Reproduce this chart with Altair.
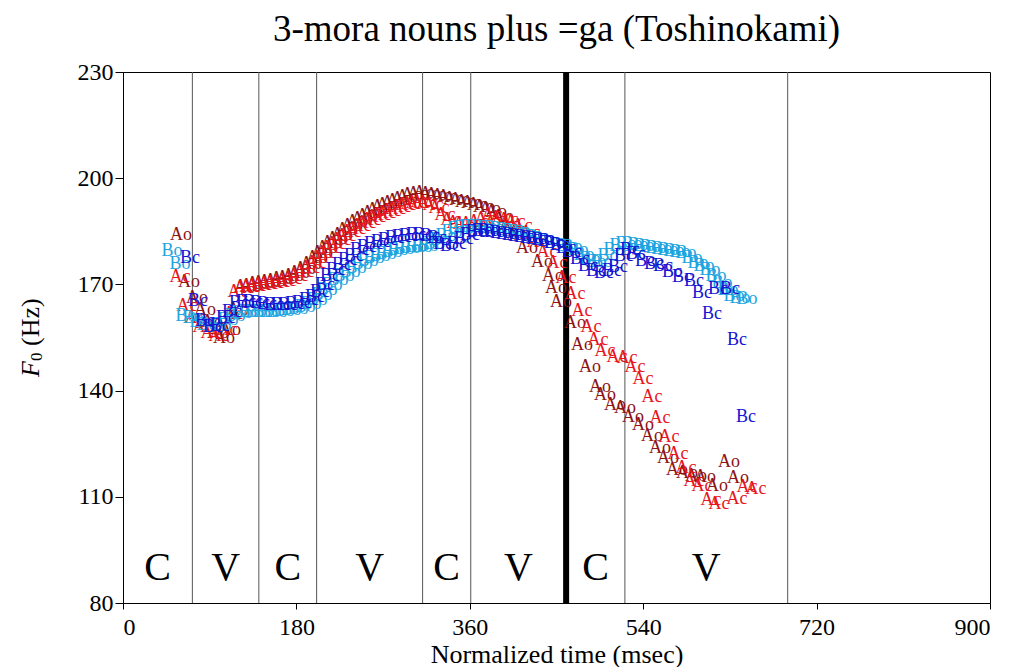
import altair as alt
import pandas as pd

# ---- data (ms, Hz) ----
ao_t = [60.2, 68.5, 76.8, 85.1, 92.4, 98.6, 104.8, 111.1, 119.4, 126.6, 132.9, 139.1, 145.3, 151.6, 157.8,
        164.0, 170.2, 176.5, 182.7, 188.9, 195.2, 201.4, 206.6, 211.8, 217.0, 222.2, 227.3, 232.5, 237.7,
        242.9, 248.1, 253.3, 258.5, 263.7, 268.9, 274.1, 279.2, 284.4, 289.6, 294.8, 300.0, 306.2, 312.5,
        318.7, 324.9, 331.2, 337.4, 343.6, 349.8, 356.1, 362.3, 368.5, 374.8, 381.0, 387.2, 394.5, 401.7,
        409.0, 419.4, 435.0, 446.4, 449.5, 454.7, 469.2, 476.5, 484.8, 495.2, 500.4, 510.7, 521.1, 529.4,
        539.8, 549.2, 557.5, 565.8, 575.1, 585.5, 594.8, 604.2, 616.6, 629.1, 638.4]
ao_f = [184.0, 170.7, 166.2, 162.8, 159.4, 156.3, 154.9, 157.1, 162.8, 169.3, 169.5, 170.1, 170.4, 170.7, 171.0,
        171.5, 171.8, 172.4, 173.2, 174.3, 175.8, 177.5, 178.9, 180.3, 181.7, 182.8, 184.0, 185.4, 186.5,
        187.6, 188.5, 189.3, 190.2, 191.0, 191.9, 192.4, 193.0, 193.6, 194.1, 194.7, 195.3, 195.5, 195.8,
        195.5, 195.3, 195.0, 194.7, 194.1, 193.8, 193.3, 193.0, 192.4, 191.9, 191.3, 190.5, 189.0, 186.8,
        184.0, 180.3, 176.3, 172.4, 169.0, 165.0, 159.1, 152.9, 146.7, 141.0, 138.8, 135.9, 135.1, 132.5,
        130.3, 127.2, 123.8, 121.0, 117.6, 116.7, 115.9, 115.6, 113.0, 119.8, 115.3]

ac_t = [59.2, 66.4, 74.7, 83.0, 91.4, 99.7, 108.0, 114.2, 119.4, 125.6, 131.8, 138.1, 144.3, 150.5, 156.8,
        163.0, 169.2, 175.4, 181.7, 187.9, 194.1, 200.4, 205.5, 210.7, 215.9, 221.1, 226.3, 231.5, 236.7,
        241.9, 247.1, 252.3, 257.4, 262.6, 267.8, 273.0, 278.2, 283.4, 288.6, 293.8, 299.0, 304.2, 309.4,
        315.6, 321.8, 328.0, 334.3, 340.5, 346.7, 353.0, 360.2, 368.5, 375.8, 383.1, 391.4, 399.7, 406.9,
        414.2, 422.5, 429.8, 440.2, 450.5, 459.9, 469.2, 476.5, 485.8, 493.1, 500.4, 512.8, 523.2, 531.5,
        539.8, 549.2, 557.5, 566.8, 576.1, 584.4, 592.7, 601.1, 610.4, 618.7, 637.4, 647.8, 657.1]
ac_f = [172.1, 163.9, 160.5, 158.0, 156.3, 155.4, 157.1, 161.6, 167.9, 169.0, 169.3, 169.5, 169.8, 170.1, 170.4,
        170.7, 171.0, 171.5, 172.4, 173.5, 174.6, 176.0, 177.5, 178.9, 180.3, 181.4, 182.5, 183.7, 184.8,
        185.6, 186.5, 187.3, 188.2, 189.0, 189.6, 190.2, 190.7, 191.3, 191.9, 192.4, 192.7, 193.0, 193.3,
        193.0, 192.4, 191.6, 189.6, 188.2, 187.3, 187.1, 187.1, 187.6, 188.5, 189.6, 188.8, 188.2, 187.6,
        186.5, 184.5, 182.0, 179.2, 176.0, 171.8, 167.3, 162.5, 158.0, 154.3, 151.2, 149.5, 149.2, 146.7,
        143.3, 138.2, 132.3, 126.9, 122.1, 118.1, 114.5, 113.0, 109.1, 108.0, 109.4, 112.8, 112.2]

bo_t = [50.9, 59.2, 65.4, 72.7, 79.9, 87.2, 94.5, 101.7, 109.0, 116.3, 123.5, 130.8, 138.1, 145.3, 152.6,
        159.9, 167.1, 174.4, 181.7, 188.9, 195.2, 201.4, 206.6, 211.8, 217.0, 223.2, 229.4, 235.6, 241.9,
        248.1, 254.3, 260.6, 266.8, 273.0, 279.2, 285.5, 291.7, 297.9, 304.2, 310.4, 316.6, 322.8, 329.1,
        335.3, 341.5, 347.8, 354.0, 360.2, 366.4, 372.7, 378.9, 385.1, 391.4, 397.6, 403.8, 410.0, 416.3,
        422.5, 428.7, 435.0, 441.2, 447.4, 453.6, 459.9, 466.1, 472.3, 478.6, 484.8, 491.0, 497.2, 503.5,
        509.7, 515.9, 522.2, 528.4, 534.6, 540.8, 547.1, 553.3, 559.5, 565.8, 572.0, 578.2, 584.4, 590.7,
        596.9, 603.1, 609.4, 615.6, 621.8, 628.0, 634.3, 640.5, 647.8]
bo_f = [179.4, 175.8, 161.1, 160.5, 159.4, 158.5, 158.0, 158.5, 159.9, 161.1, 161.9, 162.2, 162.2, 162.2, 162.2,
        162.2, 162.5, 162.8, 163.0, 163.6, 164.5, 165.6, 167.0, 168.4, 169.8, 171.2, 172.4, 173.5, 174.6,
        175.8, 176.6, 177.5, 178.0, 178.6, 179.2, 179.7, 180.0, 180.3, 180.6, 180.6, 180.8, 181.4, 182.5,
        183.7, 184.8, 185.6, 185.9, 186.2, 186.2, 186.2, 185.9, 185.9, 185.6, 185.4, 185.1, 184.8, 184.5,
        184.0, 183.4, 182.8, 182.3, 181.7, 181.1, 180.8, 180.6, 179.7, 178.3, 177.2, 176.3, 176.3, 178.0,
        179.7, 180.8, 181.4, 181.4, 181.1, 180.8, 180.6, 180.3, 180.0, 179.7, 179.4, 179.2, 178.9, 177.5,
        176.0, 175.2, 174.1, 172.4, 170.4, 168.4, 166.7, 166.2, 165.9]

bc_t = [69.6, 77.9, 85.1, 93.4, 100.7, 106.9, 113.2, 120.4, 127.7, 135.0, 142.2, 149.5, 156.8, 164.0, 171.3,
        178.6, 185.8, 193.1, 199.3, 204.5, 209.7, 214.9, 221.1, 227.3, 233.6, 239.8, 246.0, 253.3, 260.6,
        267.8, 275.1, 282.4, 289.6, 296.9, 304.2, 311.4, 318.7, 326.0, 332.2, 339.5, 346.7, 354.0, 360.2,
        366.4, 372.7, 378.9, 385.1, 391.4, 397.6, 403.8, 410.0, 416.3, 422.5, 428.7, 435.0, 441.2, 447.4,
        453.6, 459.9, 466.1, 474.4, 482.7, 491.0, 499.3, 507.6, 513.9, 520.1, 526.3, 532.5, 541.9, 551.2,
        560.6, 569.9, 580.3, 592.7, 601.1, 611.4, 617.7, 630.1, 637.4, 646.7]
bc_f = [177.5, 165.3, 159.7, 158.0, 158.2, 160.5, 162.2, 164.7, 165.0, 165.0, 164.7, 164.5, 164.2, 164.2, 164.2,
        164.5, 164.7, 165.6, 166.4, 167.9, 169.8, 172.4, 174.1, 175.5, 176.9, 178.0, 179.7, 180.6, 181.4,
        182.0, 182.5, 183.1, 183.4, 183.7, 184.0, 184.0, 183.7, 183.1, 181.4, 180.8, 181.4, 182.8, 184.0,
        184.8, 185.1, 185.1, 184.8, 184.5, 184.2, 184.0, 183.7, 183.4, 183.1, 182.8, 182.5, 182.3, 181.7,
        181.1, 180.3, 179.2, 177.2, 175.2, 173.8, 173.2, 173.8, 174.9, 178.0, 179.7, 178.6, 176.6, 175.8,
        175.2, 173.5, 172.1, 171.0, 167.6, 161.6, 168.7, 168.7, 154.3, 132.5]

series_names = ["Ao", "Ac", "Bo", "Bc"]
series_colors = ["#8c1414", "#e8141c", "#1ea5e0", "#1414d2"]

boundary_t = [72, 141, 201, 311, 361, 460, 521, 690]
boundary_w = [1, 1, 1, 1, 1, 6, 1, 1]
boundary_c = ["#555555"] * 5 + ["#000000"] + ["#555555"] * 2
segment_t = [36, 106.5, 171, 256, 336, 410.5, 490.5, 605.5]
segment_lab = ["C", "V", "C", "V", "C", "V", "C", "V"]
segment_f = 90

FONT = "Liberation Serif"

rows = []
for name, ts, fs in zip(series_names, [ao_t, ac_t, bo_t, bc_t], [ao_f, ac_f, bo_f, bc_f]):
    for t, f in zip(ts, fs):
        rows.append({"series": name, "t": t, "f": f})
pts = pd.DataFrame(rows)

bounds = pd.DataFrame({"t": boundary_t, "w": boundary_w, "c": boundary_c})
segs = pd.DataFrame({"t": segment_t, "lab": segment_lab, "f": [segment_f] * len(segment_t)})

xscale = alt.Scale(domain=[0, 900], nice=False, zero=False)
yscale = alt.Scale(domain=[80, 230], nice=False, zero=False)

xaxis = alt.Axis(values=[0, 180, 360, 540, 720, 900], title="Normalized time (msec)", grid=False,
                 tickSize=6, labelPadding=6, titlePadding=2, titleFontSize=26)
yaxis = alt.Axis(values=[80, 110, 140, 170, 200, 230], title=None, grid=False,
                 tickSize=8, labelPadding=2)

rules = alt.Chart(bounds).mark_rule().encode(
    x=alt.X("t:Q", scale=xscale, axis=xaxis),
    strokeWidth=alt.StrokeWidth("w:Q", scale=None, legend=None),
    color=alt.Color("c:N", scale=None, legend=None),
)

texts = alt.Chart(pts).mark_text(font=FONT, fontSize=18, align="center", baseline="middle").encode(
    x=alt.X("t:Q", scale=xscale, axis=xaxis),
    y=alt.Y("f:Q", scale=yscale, axis=yaxis),
    text="series:N",
    color=alt.Color("series:N", scale=alt.Scale(domain=series_names, range=series_colors), legend=None),
)

seg_text = alt.Chart(segs).mark_text(font=FONT, fontSize=40, align="center", baseline="middle", color="black").encode(
    x=alt.X("t:Q", scale=xscale, axis=xaxis),
    y=alt.Y("f:Q", scale=yscale, axis=yaxis),
    text="lab:N",
)

# y-axis title "F0 (Hz)" with italic F and subscript 0
ytitle_parts = ["F", "0", "(Hz)"]
ytitle_f = alt.Chart(pd.DataFrame({"s": [ytitle_parts[0]]})).mark_text(
    font=FONT, fontSize=26, fontStyle="italic", angle=270, align="left", baseline="middle", color="black"
).encode(text="s:N", x=alt.value(-92), y=alt.value(305))
ytitle_sub = alt.Chart(pd.DataFrame({"s": [ytitle_parts[1]]})).mark_text(
    font=FONT, fontSize=17, angle=270, align="left", baseline="middle", color="black"
).encode(text="s:N", x=alt.value(-86), y=alt.value(289))
ytitle_rest = alt.Chart(pd.DataFrame({"s": [ytitle_parts[2]]})).mark_text(
    font=FONT, fontSize=26, angle=270, align="left", baseline="middle", color="black"
).encode(text="s:N", x=alt.value(-92), y=alt.value(274))

chart = alt.layer(rules, texts, seg_text, ytitle_f, ytitle_sub, ytitle_rest).properties(
    width=867,
    height=531,
    autosize=alt.AutoSizeParams(type="none"),
    padding={"left": 115, "top": 64, "right": 20, "bottom": 64},
    title=alt.TitleParams(text="3-mora nouns plus =ga (Toshinokami)", font=FONT, fontSize=37,
                          fontWeight="normal", color="black", anchor="middle", offset=11),
).configure_view(stroke="black", strokeWidth=1).configure_axis(
    labelFont=FONT, titleFont=FONT, labelFontSize=24, titleFontSize=24, labelColor="black",
    titleColor="black", titleFontWeight="normal", domainColor="black", tickColor="black",
    domainWidth=1, tickWidth=1,
)

chart.save("out.html", embed_options={"renderer": "svg", "actions": False})
